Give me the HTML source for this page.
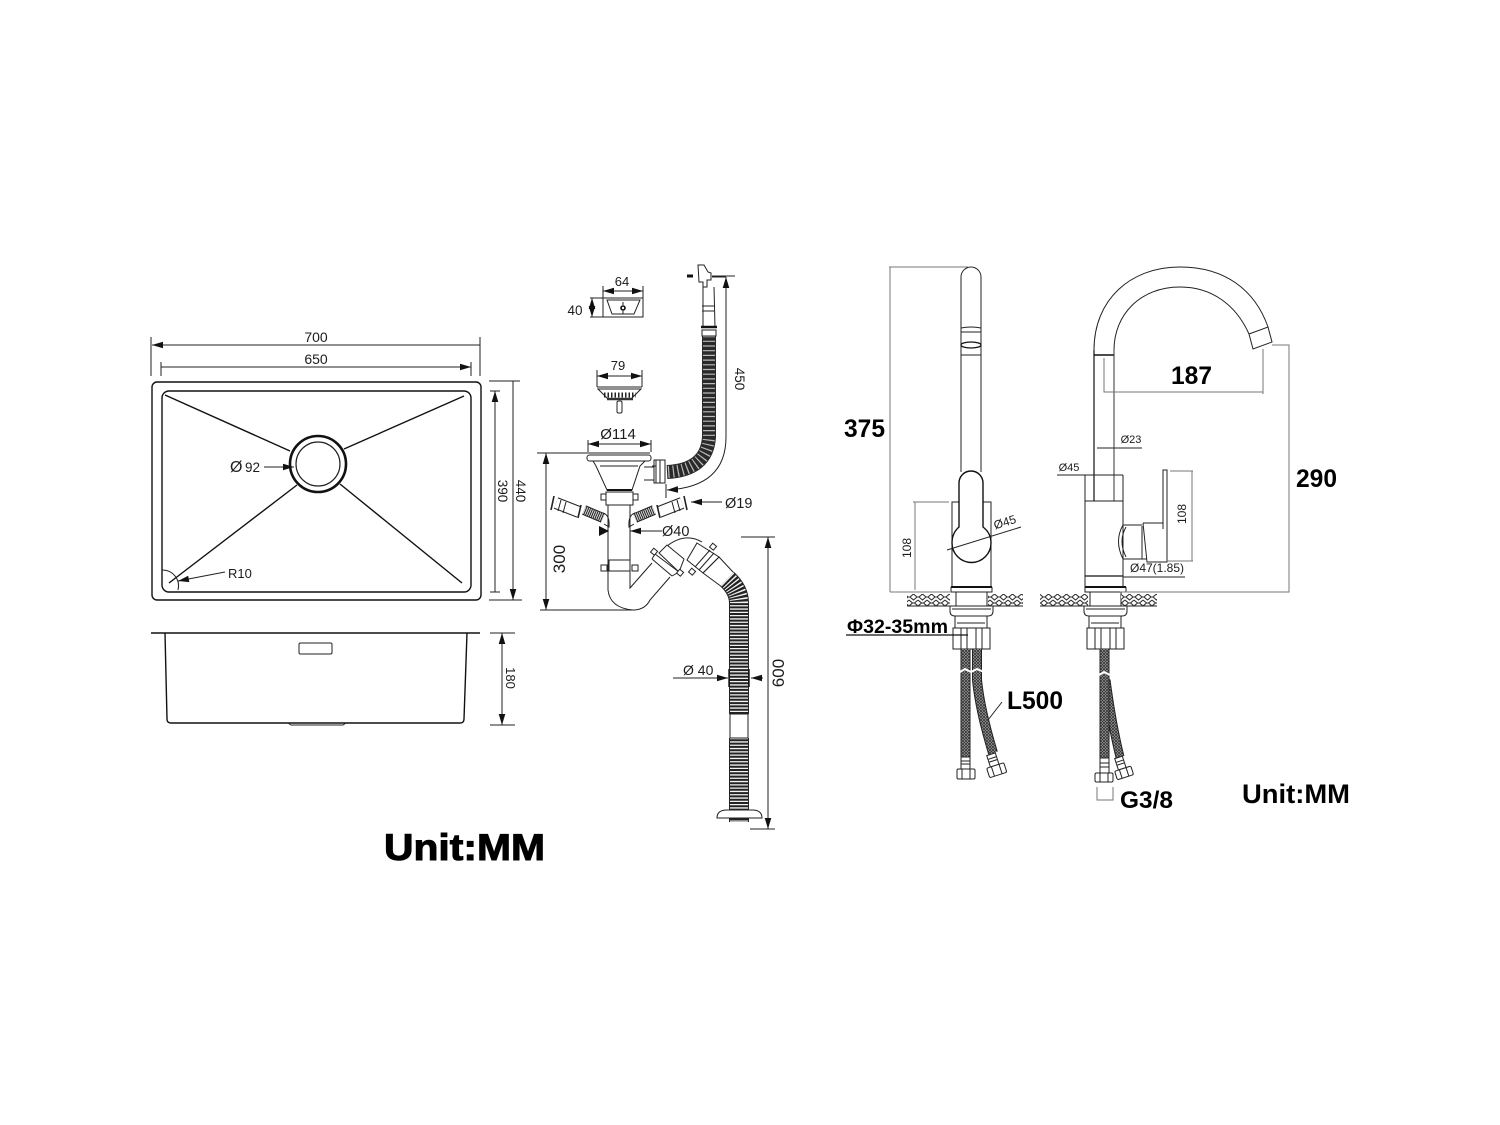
<!DOCTYPE html>
<html><head><meta charset="utf-8"><style>
html,body{margin:0;padding:0;background:#fff}
svg{display:block}
text{font-family:"Liberation Sans",sans-serif;fill:#1c1c1c}
.b{font-weight:bold;fill:#000}
.l{fill:none;stroke:#222;stroke-width:1}
.t{fill:none;stroke:#111;stroke-width:1.4}
.g{fill:none;stroke:#777;stroke-width:1}
.w{fill:#fff;stroke:#222;stroke-width:1}
</style></head><body>
<svg width="1500" height="1125" viewBox="0 0 1500 1125" xmlns="http://www.w3.org/2000/svg">
<defs>
<marker id="a" viewBox="0 0 10 6" refX="10" refY="3" markerWidth="11" markerHeight="7" markerUnits="userSpaceOnUse" orient="auto-start-reverse"><path d="M0 0L10 3L0 6z" fill="#111"/></marker>
<pattern id="h" width="9" height="12" patternUnits="userSpaceOnUse" y="594"><path d="M4.500 0L8 3L4.500 6L1 3ZM0 6L3.500 9L0 12M9 6L5.500 9L9 12M0 3H1M8 3H9M3.500 9H5.500" fill="#fff" stroke="#333" stroke-width="1.100"/></pattern>
<pattern id="br" width="3" height="3" patternUnits="userSpaceOnUse"><rect width="3" height="3" fill="#aaa"/><path d="M0 0L3 3M3 0L0 3" stroke="#333" stroke-width=".8"/></pattern>
</defs>
<rect width="1500" height="1125" fill="#fff"/>

<!-- SINK TOP -->
<rect x="152" y="382" width="329" height="218" rx="5" class="t" stroke-width="1.6"/>
<rect x="162" y="391" width="309" height="201" rx="7" class="t"/>
<path d="M165 395L290 451M464 396L344 449M169 583L297 485M462 583L340 484" class="t" stroke-width="1.2"/>
<circle cx="318" cy="464" r="28" fill="none" stroke="#111" stroke-width="2.6"/>
<circle cx="318" cy="464" r="22" fill="none" stroke="#222" stroke-width="1.2"/>
<path d="M162 570A16 16 0 0 1 178 590" class="l"/>
<path d="M225 572L178 581" class="l" marker-end="url(#a)"/>
<path d="M264 467L294 467" class="l" marker-end="url(#a)"/>
<text x="230" y="472" font-size="16">Ø</text><text x="245" y="472" font-size="13.500">92</text>
<text x="228" y="578" font-size="13">R10</text>
<path d="M151 337V376M480 337V376M161 362V376M471 362V376" class="l"/>
<path d="M152 345H480M161 367H471" class="l" marker-start="url(#a)" marker-end="url(#a)"/>
<text x="316" y="342" font-size="14" text-anchor="middle">700</text>
<text x="316" y="364" font-size="14" text-anchor="middle">650</text>
<path d="M489 381H520M490 391H500M489 600H522M490 592H500" class="l"/>
<path d="M495 391V592M513 381V600" class="l" marker-start="url(#a)" marker-end="url(#a)"/>
<text transform="translate(498 491) rotate(90)" font-size="13.500" text-anchor="middle">390</text>
<text transform="translate(516 491) rotate(90)" font-size="13.500" text-anchor="middle">440</text>

<!-- SINK SIDE -->
<path d="M151 633H480" class="t" stroke-width="1.8"/>
<path d="M165 633L167 719Q167 723 171 723H460Q464 723 464 719L467 633" class="t"/>
<rect x="299" y="643" width="33" height="11" rx="1.500" class="l" stroke="#666"/>
<path d="M288 723L291 725H343L346 723" class="l"/>
<path d="M490 633H515M490 725H515" class="l"/>
<path d="M502 633V725" class="l" marker-start="url(#a)" marker-end="url(#a)"/>
<text transform="translate(506 678) rotate(90)" font-size="13" text-anchor="middle">180</text>
<text x="384" y="860" font-size="37" class="b" stroke="#000" stroke-width="1" textLength="161" lengthAdjust="spacingAndGlyphs">Unit:MM</text>

<!-- overflow plate -->
<rect x="603" y="298" width="40" height="19" class="l" stroke-width="1.3"/>
<path d="M607 300H640L634 314H612Z" class="l"/>
<circle cx="623" cy="308" r="2" fill="none" stroke="#111" stroke-width="1.6"/>
<path d="M623 302V305M623 311V314" class="l"/>
<path d="M603 286V298M643 286V298M590 298H603M590 317H603" class="l"/>
<path d="M603 291H643" class="l" marker-start="url(#a)" marker-end="url(#a)"/>
<path d="M592 298V317" class="l" marker-start="url(#a)" marker-end="url(#a)"/>
<text x="622" y="286" font-size="13" text-anchor="middle">64</text>
<text x="575" y="315" font-size="13.500" text-anchor="middle">40</text>

<!-- strainer -->
<path d="M597 370V387M642 370V387" class="l"/>
<path d="M597 376H642" class="l" marker-start="url(#a)" marker-end="url(#a)"/>
<text x="618" y="370" font-size="13" text-anchor="middle">79</text>
<path d="M597 387H642M598 389L608 399H631L641 389Z" class="l"/>
<path d="M604 395H636" stroke="#222" stroke-width="5" stroke-dasharray="1.500 2" fill="none"/>
<path d="M607 399H633" stroke="#333" stroke-width="2.500"/>
<rect x="617" y="401" width="5" height="12" rx="1.500" class="w"/>

<!-- overflow hose -->
<path d="M698 265L704 265L708 272L711 273V280H707V287H703V282H699Z" class="w"/>
<path d="M687 276H693" stroke="#111" stroke-width="3"/>
<path d="M703 287V327M714 287L715 327M702 306H714M702 311H714" class="l"/>
<path d="M701 327H717" stroke="#111" stroke-width="2.500"/>
<path d="M709 336V437Q707 470 667 472" fill="none" stroke="#2a2a2a" stroke-width="14"/>
<path d="M709 336V437Q707 470 667 472" fill="none" stroke="#bbb" stroke-width="12" stroke-dasharray="1.200 3.500"/>
<path d="M702 330H716V336H702Z" class="w"/>
<rect x="654" y="460" width="11" height="23" class="w"/>
<path d="M656 460V483M660 460V483M652 466H656" class="l"/>
<path d="M726 277H712M735 276H712" class="l"/>
<path d="M726 277V437Q726 487 667 490" class="l" marker-start="url(#a)" marker-end="url(#a)"/>
<path d="M666 484V498" class="l"/>
<text transform="translate(735 379) rotate(90)" font-size="13.500" text-anchor="middle">450</text>

<!-- drain -->
<path d="M537 453H650" class="l" stroke-width="1.300"/>
<path d="M588 440V452M651 440V452" class="l"/>
<path d="M588 444H651" class="l" marker-start="url(#a)" marker-end="url(#a)"/>
<text x="618" y="439" font-size="15" text-anchor="middle">Ø114</text>
<rect x="587" y="455" width="64" height="6" rx="2.500" class="w"/>
<path d="M593 461L596 466L607 490H632L640 466L645 461Z" class="w"/>
<path d="M600 466H638M644 467H654M644 480H654" class="l"/>
<path d="M607 490H632" stroke="#111" stroke-width="2"/>
<path d="M608 505V590Q610 608 633 610Q645 610 650 600L670 577M630 505V588L652 563" class="l"/>
<rect x="606" y="492" width="27" height="13" class="w"/>
<rect x="601" y="494" width="5" height="6" class="w"/><rect x="633" y="494" width="5" height="6" class="w"/>
<rect x="609" y="560" width="21" height="11" class="w"/>
<rect x="601" y="565" width="6" height="6" class="w"/><rect x="632" y="565" width="6" height="6" class="w"/>
<!-- side pipes -->
<g id="sp">
<path d="M556 503L579 512" stroke="#222" stroke-width="12"/>
<path d="M556 503L579 512" stroke="#fff" stroke-width="10"/>
<path d="M554 496L551 510M581 505L578 518" stroke="#222" stroke-width="1.600"/>
<path d="M561 500L558 511M566 502L563 513" class="l"/>
<path d="M584 510L603 518" stroke="#222" stroke-width="10"/>
<path d="M584 510L603 518" stroke="#ddd" stroke-width="8" stroke-dasharray="1 1"/>
<path d="M603 513Q610 515 609 527L604 524" class="l"/>
</g>
<use href="#sp" transform="matrix(-1 0 0 1 1238 0)"/>
<path d="M662 531H630" class="l" marker-end="url(#a)"/>
<path d="M599 531H608" class="l"/><path d="M599 526L609 531L599 536z" fill="#111"/>
<text x="662" y="536" font-size="14.500">Ø40</text>
<path d="M722 502H691" class="l" marker-end="url(#a)"/>
<text x="725" y="508" font-size="14.500">Ø19</text>
<!-- elbow -->
<path d="M667 546Q685 532 702 542" class="l"/>
<path d="M667 545L684 559L679 572L659 553Z" class="w"/>
<path d="M655 554L679 572M652 559L672 576M652 559L655 554M672 576L679 572" class="w" fill="none" stroke-width="1.300"/>
<path d="M697 543L719 557L703 573L687 560Z" class="w"/>
<path d="M710 550L695 567M719 557L703 573M714 553L699 570" class="l" stroke-width="1.200"/>
<rect x="652" y="549" width="5" height="5" class="w" transform="rotate(40 654 551)"/>
<rect x="678" y="570" width="5" height="5" class="w" transform="rotate(40 680 572)"/>
<rect x="711" y="544" width="5" height="5" class="w" transform="rotate(40 713 546)"/>
<rect x="690" y="569" width="5" height="5" class="w" transform="rotate(40 692 571)"/>
<path d="M719 557L733 572M703 573L722 587" class="l"/>
<!-- long hose -->
<path d="M727 579Q739 590 739 603V714M739 738V822" fill="none" stroke="#222" stroke-width="20"/>
<path d="M727 579Q739 590 739 603V714M739 738V822" fill="none" stroke="#f2f2f2" stroke-width="18" stroke-dasharray="1.300 2"/>
<rect x="730" y="714" width="18" height="24" class="w"/>
<path d="M717 818Q717 810 727 810H752Q762 810 762 818Z" class="w"/>
<path d="M750 829H775M741 537H775" class="l"/>
<path d="M768 537V829" class="l" marker-start="url(#a)" marker-end="url(#a)"/>
<text transform="translate(784 673) rotate(-90)" font-size="17" text-anchor="middle">600</text>
<path d="M673 678H728" class="l" marker-end="url(#a)"/>
<path d="M763 678H751" class="l" marker-end="url(#a)"/>
<path d="M729 669V687M749 669V687" stroke="#111" stroke-width="1.400"/>
<text x="683" y="675" font-size="14">Ø 40</text>
<path d="M540 610H634" class="l" stroke-width="1.200"/>
<path d="M546 453V610" class="l" marker-start="url(#a)" marker-end="url(#a)"/>
<text transform="translate(565 559) rotate(-90)" font-size="17" text-anchor="middle">300</text>

<!-- FAUCET LEFT -->
<path d="M889 267H968M890 267V592M890 592H950M913 502H949M915 502V590" class="g"/>
<path d="M961 472V277A10 10 0 0 1 981 277V472" class="l" stroke-width="1.200"/>
<path d="M961 328Q971 326 981 328M961 332H981M961 355H981" class="l"/>
<ellipse cx="971" cy="345" rx="10" ry="3" fill="none" stroke="#111" stroke-width="1.300"/>
<path d="M952 587V502H991V587" class="l" stroke="#555"/>
<path d="M959 527V483A12 12 0 0 1 983 483V527Q991 533 991 543A19.500 19.500 0 0 1 952 543Q952 533 959 527Z" fill="#fff" stroke="#111" stroke-width="1.400"/>
<path d="M947 550L1021 527" class="l"/>
<text transform="translate(1006 526) rotate(-17)" font-size="12" text-anchor="middle">Ø45</text>
<text transform="translate(911 548) rotate(-90)" font-size="12" text-anchor="middle">108</text>
<text x="844" y="437" font-size="25" class="b" textLength="41" lengthAdjust="spacingAndGlyphs">375</text>
<g id="base">
<path d="M951 587H992" stroke="#111" stroke-width="2"/>
<path d="M951 587V592H992V587" class="l"/>
<path d="M956 592V606M987 592V606" class="l"/>
<path d="M950 606H993V611Q993 616 988 616H955Q950 616 950 611Z" class="w"/>
<path d="M952 609H991" class="l"/>
<path d="M955 616V628M987 616V628M957 623H985" class="l"/>
<path d="M953 628H990V649H953Z" class="w"/>
<path d="M961 628V649M967 628V649M976 628V649M982 628V649" class="l"/>
</g>
<use href="#base" transform="translate(134 0)"/>
<rect x="907" y="594" width="43" height="12" fill="url(#h)"/>
<rect x="988" y="594" width="35" height="12" fill="url(#h)"/>
<rect x="1040" y="594" width="48" height="12" fill="url(#h)"/>
<rect x="1121" y="594" width="36" height="12" fill="url(#h)"/>
<path d="M907 606H950M988 606H1023M1040 606H1088M1121 606H1157" class="l"/>
<path d="M846 635H968" stroke="#111" stroke-width="1.300"/>
<text x="847" y="633" font-size="19" class="b" textLength="101" lengthAdjust="spacingAndGlyphs">Φ32-35mm</text>
<path d="M965.500 649V757" fill="none" stroke="#222" stroke-width="10"/>
<path d="M965.500 649V757" fill="none" stroke="url(#br)" stroke-width="8"/>
<path d="M977 649V680Q980 710 993 753" fill="none" stroke="#222" stroke-width="10"/>
<path d="M977 649V680Q980 710 993 753" fill="none" stroke="url(#br)" stroke-width="8"/>
<path d="M960 672L965 669L971 672L977 669L984 672" fill="none" stroke="#fff" stroke-width="2"/>
<rect x="961" y="757" width="9" height="12" class="w"/><path d="M961 761H970M961 764H970" class="l"/>
<rect x="957" y="769" width="18" height="10" rx="1.500" class="w"/><path d="M962 769V779M970 769V779" class="l"/>
<g transform="rotate(-18 993 762)"><rect x="989" y="754" width="9" height="12" class="w"/><path d="M989 758H998M989 761H998" class="l"/><rect x="985" y="766" width="18" height="10" rx="1.500" class="w"/><path d="M990 766V776M998 766V776" class="l"/></g>
<path d="M1002 702L988 720" class="l"/>
<text x="1007" y="709" font-size="25" class="b" textLength="56" lengthAdjust="spacingAndGlyphs">L500</text>

<!-- FAUCET RIGHT -->
<path d="M1094 350C1094 300 1130 267 1180 267C1225 267 1255 290 1268 327M1114 350C1114 315 1140 287 1180 287C1212 287 1236 305 1249 334" class="l" stroke-width="1.200"/>
<path d="M1249 334L1268 327L1272 342L1253 349Z" class="l" stroke-width="1.200"/>
<path d="M1094 355H1114" stroke="#111" stroke-width="1.400"/>
<path d="M1094 350V501" stroke="#111" stroke-width="1.200"/><path d="M1114 350V501" stroke="#333" stroke-width="1"/>
<path d="M1104 358V392H1263M1263 349V394" class="g"/>
<text x="1171" y="384" font-size="25" class="b" textLength="41" lengthAdjust="spacingAndGlyphs">187</text>
<path d="M1272 345H1289V592H1120" class="g"/>
<text x="1296" y="487" font-size="25" class="b" textLength="41" lengthAdjust="spacingAndGlyphs">290</text>
<path d="M1097 448H1142M1057 475H1123M1085 475V501M1123 475V501" class="l"/>
<text x="1131" y="443" font-size="11" text-anchor="middle">Ø23</text>
<text x="1069" y="471" font-size="11" text-anchor="middle">Ø45</text>
<path d="M1085 501H1123V576M1085 501V576" class="l" stroke-width="1.200"/>
<path d="M1085 576H1123" stroke="#111" stroke-width="1.300"/>
<path d="M1085 576V587M1123 576V587" class="l"/>
<path d="M1123 525Q1114 541 1123 559H1147M1123 525H1142M1142 526V559M1126 527Q1118 541 1126 557" class="l"/>
<path d="M1143 523H1163M1143 523L1147 562H1167V470H1163V529" class="l" stroke-width="1.100"/>
<path d="M1170 471H1193M1192 471V561M1167 561H1193" class="g"/>
<text transform="translate(1186 514) rotate(-90)" font-size="12" text-anchor="middle">108</text>
<text x="1157" y="572" font-size="12" text-anchor="middle">Ø47(1.85)</text>
<path d="M1123 577H1185" class="l"/>
<path d="M1106 680Q1112 725 1120 757" fill="none" stroke="#222" stroke-width="9"/>
<path d="M1106 680Q1112 725 1120 757" fill="none" stroke="url(#br)" stroke-width="7"/>
<path d="M1104.500 649V758" fill="none" stroke="#222" stroke-width="10"/>
<path d="M1104.500 649V758" fill="none" stroke="url(#br)" stroke-width="8"/>
<path d="M1099 675L1104 672L1110 675" fill="none" stroke="#fff" stroke-width="2"/>
<rect x="1100" y="758" width="9" height="15" class="w"/><path d="M1100 763H1109M1100 767H1109" class="l"/>
<rect x="1095" y="773" width="18" height="9" rx="1.500" class="w"/><path d="M1100 773V782M1108 773V782" class="l"/>
<g transform="rotate(-18 1121 765)"><rect x="1117" y="757" width="8" height="12" class="w"/><path d="M1117 761H1125M1117 764H1125" class="l"/><rect x="1113" y="769" width="17" height="9" rx="1.500" class="w"/><path d="M1118 769V778M1125 769V778" class="l"/></g>
<path d="M1097 787V800H1113V787" class="g"/>
<text x="1120" y="808" font-size="24" class="b" textLength="53" lengthAdjust="spacingAndGlyphs">G3/8</text>
<text x="1242" y="803" font-size="27" class="b" textLength="108" lengthAdjust="spacingAndGlyphs">Unit:MM</text>
</svg>
</body></html>
